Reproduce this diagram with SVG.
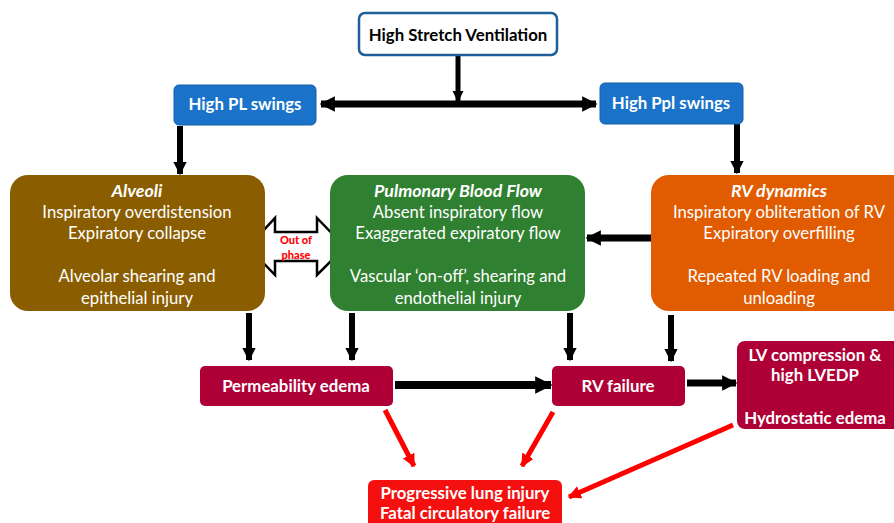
<svg xmlns="http://www.w3.org/2000/svg" width="894" height="523" viewBox="0 0 894 523">
<defs>
<style>
.t{font-family:Lato,"Open Sans","Liberation Sans",sans-serif;text-anchor:middle;fill:#fff}
.b{font-weight:bold}
.body{font-size:16.7px}
.hd{font-size:17.8px;font-weight:bold;font-style:italic}
.lbl{font-size:16.8px;font-weight:bold}
.blk{stroke:#000;stroke-width:6;fill:none}
.red{stroke:#f00;stroke-width:5;fill:none}
</style>
<marker id="ah" viewBox="0 0 10 10" refX="9" refY="5" markerWidth="2.2" markerHeight="2.4" orient="auto-start-reverse" markerUnits="strokeWidth"><path d="M0,0 L10,5 L0,10 z" fill="#000"/></marker>
<marker id="ahr" viewBox="0 0 10 10" refX="9" refY="5" markerWidth="2.6" markerHeight="3" orient="auto" markerUnits="strokeWidth"><path d="M0,0 L10,5 L0,10 z" fill="#f00"/></marker>
</defs>
<rect width="894" height="523" fill="#fff"/>

<g id="connectors">
<line class="blk" x1="458" y1="55" x2="458" y2="101" marker-end="url(#ah)" style="stroke-width:5"/>
<line class="blk" x1="321" y1="104" x2="596" y2="104" marker-start="url(#ah)" marker-end="url(#ah)" style="stroke-width:7"/>
<line class="blk" x1="180" y1="126" x2="180" y2="174" marker-end="url(#ah)"/>
<line class="blk" x1="737" y1="124" x2="737" y2="173" marker-end="url(#ah)"/>
<line class="blk" x1="651" y1="238" x2="587" y2="238" marker-end="url(#ah)" style="stroke-width:7"/>
<line class="blk" x1="249" y1="313" x2="249" y2="360" marker-end="url(#ah)"/>
<line class="blk" x1="352" y1="313" x2="352" y2="360" marker-end="url(#ah)"/>
<line class="blk" x1="570" y1="313" x2="570" y2="360" marker-end="url(#ah)"/>
<line class="blk" x1="671" y1="315" x2="671" y2="361" marker-end="url(#ah)"/>
<line class="blk" x1="395" y1="385" x2="551" y2="385" marker-end="url(#ah)" style="stroke-width:8"/>
<line class="blk" x1="687" y1="383" x2="736" y2="383" marker-end="url(#ah)" style="stroke-width:7"/>
<line class="red" x1="385" y1="410" x2="414" y2="466" marker-end="url(#ahr)"/>
<line class="red" x1="553" y1="412" x2="522" y2="466" marker-end="url(#ahr)"/>
<line class="red" x1="733" y1="425" x2="569" y2="497" marker-end="url(#ahr)"/>
<path d="M248,247 L275,218 L275,232 L317,232 L317,218 L345,247 L317,275 L317,261 L275,261 L275,275 Z" fill="#fff" stroke="#000" stroke-width="2.5"/>
<text class="t b" x="296" y="244" style="font-size:11px;font-weight:900;fill:#f00">Out of</text>
<text class="t b" x="296" y="259" style="font-size:11px;font-weight:900;fill:#f00">phase</text>
</g>

<g id="n_top">
<rect x="359" y="13" width="198" height="42" rx="6" fill="#fff" stroke="#1f5f99" stroke-width="2.5"/>
<text class="t lbl" x="458" y="41" style="fill:#000">High Stretch Ventilation</text>
</g>
<g id="n_pl">
<rect x="174" y="85" width="142" height="40" rx="5" fill="#1a73c8" stroke="#1560a8" stroke-width="1"/>
<text class="t lbl" x="245" y="110">High PL swings</text>
</g>
<g id="n_ppl">
<rect x="600" y="83" width="143" height="41" rx="5" fill="#1a73c8" stroke="#1560a8" stroke-width="1"/>
<text class="t lbl" x="671" y="109">High Ppl swings</text>
</g>

<g id="n_alveoli">
<rect x="10" y="175" width="255" height="136" rx="18" fill="#8a5e00"/>
<text class="t hd" x="137" y="197">Alveoli</text>
<text class="t body" x="137" y="218">Inspiratory overdistension</text>
<text class="t body" x="137" y="239">Expiratory collapse</text>
<text class="t body" x="137" y="282">Alveolar shearing and</text>
<text class="t body" x="137" y="304">epithelial injury</text>
</g>
<g id="n_pbf">
<rect x="330" y="175" width="255" height="136" rx="18" fill="#2f8030"/>
<text class="t hd" x="458" y="197">Pulmonary Blood Flow</text>
<text class="t body" x="458" y="218">Absent inspiratory flow</text>
<text class="t body" x="458" y="239">Exaggerated expiratory flow</text>
<text class="t body" x="458" y="282">Vascular ‘on-off’, shearing and</text>
<text class="t body" x="458" y="304">endothelial injury</text>
</g>
<g id="n_rv">
<rect x="651" y="175" width="260" height="136" rx="18" fill="#e15b00"/>
<text class="t hd" x="779" y="197">RV dynamics</text>
<text class="t body" x="779" y="218">Inspiratory obliteration of RV</text>
<text class="t body" x="779" y="239">Expiratory overfilling</text>
<text class="t body" x="779" y="282">Repeated RV loading and</text>
<text class="t body" x="779" y="304">unloading</text>
</g>

<g id="n_perm">
<rect x="200" y="366" width="193" height="40" rx="5" fill="#ae0036"/>
<text class="t lbl" x="296" y="392">Permeability edema</text>
</g>
<g id="n_rvf">
<rect x="552" y="366" width="133" height="40" rx="5" fill="#ae0036"/>
<text class="t lbl" x="618" y="392">RV failure</text>
</g>
<g id="n_lv">
<rect x="737" y="341" width="170" height="88" rx="8" fill="#ae0036"/>
<text class="t lbl" x="815" y="361">LV compression &amp;</text>
<text class="t lbl" x="815" y="381">high LVEDP</text>
<text class="t lbl" x="815" y="424">Hydrostatic edema</text>
</g>
<g id="n_final">
<rect x="368" y="480" width="194" height="50" rx="6" fill="#f51010"/>
<text class="t lbl" x="465" y="499">Progressive lung injury</text>
<text class="t lbl" x="465" y="519">Fatal circulatory failure</text>
</g>
</svg>
